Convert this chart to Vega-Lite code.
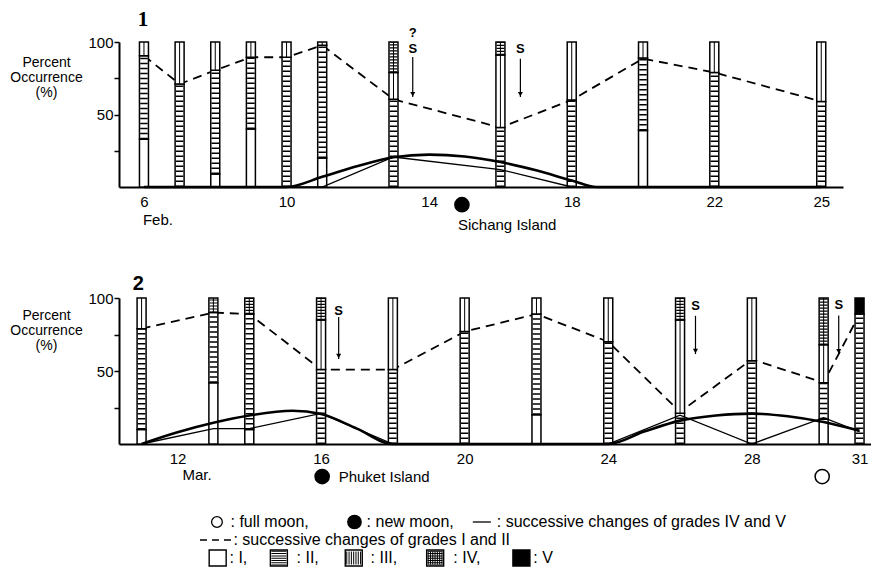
{
  "$schema": "https://vega.github.io/schema/vega-lite/v6.json",
  "background": "white",
  "autosize": {"type": "pad"},
  "padding": {"left": 9, "top": 9, "right": 0, "bottom": 0},
  "config": {
    "font": "Liberation Sans",
    "view": {"stroke": null},
    "axis": {"domainColor": "black", "domainWidth": 2, "grid": false, "labelColor": "black", "labelFont": "Liberation Sans", "labelFontSize": 15, "titleFont": "Liberation Sans", "titleFontSize": 14, "titleFontWeight": "normal", "titleColor": "black", "tickColor": "black"},
    "axisX": {"ticks": false, "labelPadding": 7, "labelFlush": false, "labelOverlap": false, "title": null},
    "axisY": {"tickSize": 5, "tickWidth": 1.5, "labelPadding": 1, "titleAngle": 0, "titleAlign": "center", "titleBaseline": "middle", "titleLineHeight": 15, "labelOverlap": false},
    "text": {"font": "Liberation Sans", "color": "black"},
    "point": {"opacity": 1}
  },
  "datasets": {
    "bars1": [
      {"day": 6, "grade": "I", "pct": 0, "hi": 33}, {"day": 6, "grade": "II", "pct": 33, "hi": 90.5}, {"day": 6, "grade": "III", "pct": 90.5, "hi": 100},
      {"day": 7, "grade": "II", "pct": 0, "hi": 71}, {"day": 7, "grade": "III", "pct": 71, "hi": 100},
      {"day": 8, "grade": "I", "pct": 0, "hi": 9}, {"day": 8, "grade": "II", "pct": 9, "hi": 80.5}, {"day": 8, "grade": "III", "pct": 80.5, "hi": 100},
      {"day": 9, "grade": "I", "pct": 0, "hi": 40}, {"day": 9, "grade": "II", "pct": 40, "hi": 89.5}, {"day": 9, "grade": "III", "pct": 89.5, "hi": 100},
      {"day": 10, "grade": "II", "pct": 0, "hi": 89.5}, {"day": 10, "grade": "III", "pct": 89.5, "hi": 100},
      {"day": 11, "grade": "I", "pct": 0, "hi": 20}, {"day": 11, "grade": "II", "pct": 20, "hi": 97.7}, {"day": 11, "grade": "III", "pct": 97.7, "hi": 100},
      {"day": 13, "grade": "II", "pct": 0, "hi": 60.5}, {"day": 13, "grade": "III", "pct": 60.5, "hi": 79}, {"day": 13, "grade": "IV", "pct": 79, "hi": 100},
      {"day": 16, "grade": "II", "pct": 0, "hi": 41}, {"day": 16, "grade": "III", "pct": 41, "hi": 91}, {"day": 16, "grade": "IV", "pct": 91, "hi": 100},
      {"day": 18, "grade": "II", "pct": 0, "hi": 60}, {"day": 18, "grade": "III", "pct": 60, "hi": 100},
      {"day": 20, "grade": "I", "pct": 0, "hi": 39}, {"day": 20, "grade": "II", "pct": 39, "hi": 89}, {"day": 20, "grade": "III", "pct": 89, "hi": 100},
      {"day": 22, "grade": "II", "pct": 0, "hi": 79}, {"day": 22, "grade": "III", "pct": 79, "hi": 100},
      {"day": 25, "grade": "II", "pct": 0, "hi": 59}, {"day": 25, "grade": "III", "pct": 59, "hi": 100}
    ],
    "dash1": [
      {"day": 6, "pct": 90.5}, {"day": 7, "pct": 71}, {"day": 8, "pct": 80.5}, {"day": 9, "pct": 89.5}, {"day": 10, "pct": 89.5}, {"day": 11, "pct": 97.7},
      {"day": 13, "pct": 60.5}, {"day": 16, "pct": 41}, {"day": 18, "pct": 60}, {"day": 20, "pct": 88.5}, {"day": 22, "pct": 79}, {"day": 25, "pct": 59}
    ],
    "thin1": [
      {"day": 6, "pct": 0}, {"day": 11, "pct": 0}, {"day": 13, "pct": 20.7}, {"day": 16, "pct": 12}, {"day": 18, "pct": 0}, {"day": 25, "pct": 0}
    ],
    "thick1": [
      {"day": 6, "pct": 0}, {"day": 10, "pct": 0}, {"day": 11, "pct": 7}, {"day": 12, "pct": 14.5}, {"day": 13, "pct": 20.5}, {"day": 14, "pct": 22.3},
      {"day": 15, "pct": 21}, {"day": 16, "pct": 17.2}, {"day": 17, "pct": 11.5}, {"day": 18, "pct": 4.5}, {"day": 18.7, "pct": 0}, {"day": 20, "pct": 0}, {"day": 25, "pct": 0}
    ],
    "arrows1": [{"day": 13.54, "pct": 62, "top": 89.7}, {"day": 16.56, "pct": 62, "top": 88.5}],
    "stext1": [{"day": 13.54, "pct": 106, "txt": "?"}, {"day": 13.54, "pct": 95.4, "txt": "S"}, {"day": 16.56, "pct": 95.4, "txt": "S"}],
    "labels1": [{"day": 5.97, "pct": -23, "txt": "Feb."}, {"day": 14.81, "pct": -26, "txt": "Sichang Island"}],
    "moon1": [{"day": 14.92, "pct": -12.2, "phase": "new"}],
    "plabel1": [{"day": 5.97, "pct": 115, "txt": "1"}],
    "bars2": [
      {"day": 11, "grade": "I", "pct": 0, "hi": 10}, {"day": 11, "grade": "II", "pct": 10, "hi": 79}, {"day": 11, "grade": "III", "pct": 79, "hi": 100},
      {"day": 13, "grade": "I", "pct": 0, "hi": 42}, {"day": 13, "grade": "II", "pct": 42, "hi": 90}, {"day": 13, "grade": "IV", "pct": 90, "hi": 100},
      {"day": 14, "grade": "I", "pct": 0, "hi": 10}, {"day": 14, "grade": "II", "pct": 10, "hi": 89}, {"day": 14, "grade": "IV", "pct": 89, "hi": 100},
      {"day": 16, "grade": "II", "pct": 0, "hi": 51}, {"day": 16, "grade": "III", "pct": 51, "hi": 85}, {"day": 16, "grade": "IV", "pct": 85, "hi": 100},
      {"day": 18, "grade": "II", "pct": 0, "hi": 51}, {"day": 18, "grade": "III", "pct": 51, "hi": 100},
      {"day": 20, "grade": "II", "pct": 0, "hi": 77}, {"day": 20, "grade": "III", "pct": 77, "hi": 100},
      {"day": 22, "grade": "I", "pct": 0, "hi": 20}, {"day": 22, "grade": "II", "pct": 20, "hi": 89}, {"day": 22, "grade": "III", "pct": 89, "hi": 100},
      {"day": 24, "grade": "II", "pct": 0, "hi": 70}, {"day": 24, "grade": "III", "pct": 70, "hi": 100},
      {"day": 26, "grade": "II", "pct": 0, "hi": 21}, {"day": 26, "grade": "III", "pct": 21, "hi": 85}, {"day": 26, "grade": "IV", "pct": 85, "hi": 100},
      {"day": 28, "grade": "II", "pct": 0, "hi": 57}, {"day": 28, "grade": "III", "pct": 57, "hi": 100},
      {"day": 30, "grade": "I", "pct": 0, "hi": 17}, {"day": 30, "grade": "II", "pct": 17, "hi": 42}, {"day": 30, "grade": "III", "pct": 42, "hi": 68}, {"day": 30, "grade": "IV", "pct": 68, "hi": 100},
      {"day": 31, "grade": "II", "pct": 0, "hi": 89}, {"day": 31, "grade": "V", "pct": 89, "hi": 100}
    ],
    "dash2": [
      {"day": 11, "pct": 79}, {"day": 13, "pct": 90}, {"day": 14, "pct": 89}, {"day": 16, "pct": 51}, {"day": 18, "pct": 51}, {"day": 20, "pct": 77},
      {"day": 22, "pct": 89}, {"day": 24, "pct": 70}, {"day": 26, "pct": 22}, {"day": 28, "pct": 58}, {"day": 30, "pct": 42}, {"day": 31, "pct": 89}
    ],
    "thin2": [
      {"day": 11, "pct": 0}, {"day": 13, "pct": 10.5}, {"day": 14, "pct": 10.5}, {"day": 16, "pct": 21}, {"day": 18, "pct": 0}, {"day": 24, "pct": 0},
      {"day": 26, "pct": 19.7}, {"day": 28, "pct": 0}, {"day": 30, "pct": 18}, {"day": 31, "pct": 8.5}
    ],
    "thick2": [
      {"day": 11, "pct": 0}, {"day": 12, "pct": 8}, {"day": 13, "pct": 14.5}, {"day": 14, "pct": 19.5}, {"day": 15.2, "pct": 22.8},
      {"day": 16, "pct": 20.5}, {"day": 17, "pct": 10.5}, {"day": 18, "pct": 0}, {"day": 24, "pct": 0}, {"day": 25, "pct": 8.5}, {"day": 26, "pct": 16},
      {"day": 27, "pct": 19.5}, {"day": 28, "pct": 20.8}, {"day": 29, "pct": 19}, {"day": 30, "pct": 15}, {"day": 31, "pct": 9}
    ],
    "arrows2": [{"day": 16.49, "pct": 58.2, "top": 87}, {"day": 26.43, "pct": 61.6, "top": 87.8}, {"day": 30.42, "pct": 61.5, "top": 88}],
    "stext2": [{"day": 16.49, "pct": 91, "txt": "S"}, {"day": 26.43, "pct": 94.6, "txt": "S"}, {"day": 30.42, "pct": 95, "txt": "S"}],
    "labels2": [{"day": 12.14, "pct": -21.3, "txt": "Mar."}, {"day": 16.49, "pct": -22.3, "txt": "Phuket Island"}],
    "moon2": [{"day": 16.03, "pct": -22.3, "phase": "new"}, {"day": 29.96, "pct": -22.3, "phase": "full"}],
    "plabel2": [{"day": 10.91, "pct": 109.8, "txt": "2"}],
    "legendText": [
      {"u": 14.92, "row": 1, "txt": ": full moon,"},
      {"u": 33.98, "row": 1, "txt": ": new moon,"},
      {"u": 52.21, "row": 1, "txt": ": successive changes of grades IV and V"},
      {"u": 15.33, "row": 2, "txt": ": successive changes of grades I and II"},
      {"u": 14.78, "row": 3, "txt": ": I,"},
      {"u": 24.17, "row": 3, "txt": ": II,"},
      {"u": 34.53, "row": 3, "txt": ": III,"},
      {"u": 46.13, "row": 3, "txt": ": IV,"},
      {"u": 57.32, "row": 3, "txt": ": V"}
    ],
    "legendMoons": [{"u": 13.02, "row": 1, "phase": "full"}, {"u": 32.28, "row": 1, "phase": "new"}],
    "legendLines": [{"u": 48.85, "u2": 51.38, "row": 1, "style": "solid"}, {"u": 10.64, "u2": 15.19, "row": 2, "style": "dashed"}],
    "legendBoxes": [
      {"u": 13.12, "row": 3, "grade": "I"}, {"u": 21.69, "row": 3, "grade": "II"}, {"u": 32.18, "row": 3, "grade": "III"},
      {"u": 43.58, "row": 3, "grade": "IV"}, {"u": 55.66, "row": 3, "grade": "V"}
    ]
  },
  "vconcat": [
    {
      "width": 724,
      "height": 145,
      "encoding": {
        "x": {"field": "day", "type": "quantitative", "scale": {"domain": [5.44, 25.47], "nice": false, "zero": false}, "axis": {"values": [6, 10, 14, 18, 22, 25]}},
        "y": {"field": "pct", "type": "quantitative", "scale": {"domain": [0, 100], "nice": false, "zero": false},
              "axis": {"values": [25, 50, 75, 100], "labelExpr": "datum.value % 50 == 0 ? datum.label : ''", "title": ["Percent", "Occurrence", "(%)"], "titleX": -73, "titleY": 20}}
      },
      "layer": [
        {"data": {"name": "dash1"}, "mark": {"type": "line", "color": "black", "strokeWidth": 1.8, "strokeDash": [9, 6]}},
        {"data": {"name": "bars1"}, "mark": {"type": "bar", "size": 9, "stroke": "black", "strokeWidth": 1.5},
         "encoding": {"y2": {"field": "hi"}, "fill": {"condition": {"test": "datum.grade == 'V'", "value": "black"}, "value": "white"}}},
        {"data": {"name": "bars1"}, "transform": [{"filter": "datum.grade == 'II'"}],
         "mark": {"type": "rule", "color": "black", "strokeWidth": 7.5, "strokeDash": [1.5, 3.5], "strokeCap": "butt"}, "encoding": {"y2": {"field": "hi"}}},
        {"data": {"name": "bars1"}, "transform": [{"filter": "datum.grade == 'IV'"}],
         "mark": {"type": "rule", "color": "black", "strokeWidth": 7.5, "strokeDash": [1.2, 1.8], "strokeCap": "butt"}, "encoding": {"y2": {"field": "hi"}}},
        {"data": {"name": "bars1"}, "transform": [{"filter": "datum.grade == 'III' || datum.grade == 'IV'"}],
         "mark": {"type": "rule", "color": "black", "strokeWidth": 1}, "encoding": {"y2": {"field": "hi"}}},
        {"data": {"name": "thin1"}, "mark": {"type": "line", "color": "black", "strokeWidth": 1.3}},
        {"data": {"name": "thick1"}, "mark": {"type": "line", "color": "black", "strokeWidth": 2.6, "interpolate": "monotone"}},
        {"data": {"name": "arrows1"}, "mark": {"type": "rule", "color": "black", "strokeWidth": 1.2}, "encoding": {"y2": {"field": "top"}}},
        {"data": {"name": "arrows1"}, "mark": {"type": "point", "shape": "triangle-down", "filled": true, "opacity": 1, "color": "black", "size": 26, "yOffset": -3}},
        {"data": {"name": "stext1"}, "mark": {"type": "text", "fontSize": 13, "fontWeight": "bold", "align": "center", "baseline": "middle"}, "encoding": {"text": {"field": "txt"}}},
        {"data": {"name": "labels1"}, "mark": {"type": "text", "fontSize": 15, "align": "left", "baseline": "middle"}, "encoding": {"text": {"field": "txt"}}},
        {"data": {"name": "plabel1"}, "mark": {"type": "text", "font": "Liberation Serif", "fontSize": 21, "fontWeight": "bold", "align": "center", "baseline": "middle"}, "encoding": {"text": {"field": "txt"}}},
        {"data": {"name": "moon1"}, "mark": {"type": "point", "shape": "circle", "filled": true, "opacity": 1, "size": 200, "stroke": "black", "strokeWidth": 1.5},
         "encoding": {"fill": {"condition": {"test": "datum.phase == 'new'", "value": "black"}, "value": "white"}}}
      ]
    },
    {
      "width": 752,
      "height": 197,
      "encoding": {
        "x": {"field": "day", "type": "quantitative", "scale": {"domain": [10.51, 31.18], "nice": false, "zero": false}, "axis": {"values": [12, 16, 20, 24, 28, 31]}},
        "y": {"field": "pct", "type": "quantitative", "scale": {"domain": [0, 100], "range": [197, 51], "nice": false, "zero": false},
              "axis": {"values": [25, 50, 75, 100], "labelExpr": "datum.value % 50 == 0 ? datum.label : ''", "title": ["Percent", "Occurrence", "(%)"], "titleX": -73, "titleY": 68}}
      },
      "layer": [
        {"data": {"name": "dash2"}, "mark": {"type": "line", "color": "black", "strokeWidth": 1.8, "strokeDash": [9, 6]}},
        {"data": {"name": "bars2"}, "mark": {"type": "bar", "size": 9, "stroke": "black", "strokeWidth": 1.5},
         "encoding": {"y2": {"field": "hi"}, "fill": {"condition": {"test": "datum.grade == 'V'", "value": "black"}, "value": "white"}}},
        {"data": {"name": "bars2"}, "transform": [{"filter": "datum.grade == 'II'"}],
         "mark": {"type": "rule", "color": "black", "strokeWidth": 7.5, "strokeDash": [1.5, 3.5], "strokeCap": "butt"}, "encoding": {"y2": {"field": "hi"}}},
        {"data": {"name": "bars2"}, "transform": [{"filter": "datum.grade == 'IV'"}],
         "mark": {"type": "rule", "color": "black", "strokeWidth": 7.5, "strokeDash": [1.2, 1.8], "strokeCap": "butt"}, "encoding": {"y2": {"field": "hi"}}},
        {"data": {"name": "bars2"}, "transform": [{"filter": "datum.grade == 'III' || datum.grade == 'IV'"}],
         "mark": {"type": "rule", "color": "black", "strokeWidth": 1}, "encoding": {"y2": {"field": "hi"}}},
        {"data": {"name": "thin2"}, "mark": {"type": "line", "color": "black", "strokeWidth": 1.3}},
        {"data": {"name": "thick2"}, "mark": {"type": "line", "color": "black", "strokeWidth": 2.6, "interpolate": "monotone"}},
        {"data": {"name": "arrows2"}, "mark": {"type": "rule", "color": "black", "strokeWidth": 1.2}, "encoding": {"y2": {"field": "top"}}},
        {"data": {"name": "arrows2"}, "mark": {"type": "point", "shape": "triangle-down", "filled": true, "opacity": 1, "color": "black", "size": 26, "yOffset": -3}},
        {"data": {"name": "stext2"}, "mark": {"type": "text", "fontSize": 13, "fontWeight": "bold", "align": "center", "baseline": "middle"}, "encoding": {"text": {"field": "txt"}}},
        {"data": {"name": "labels2"}, "mark": {"type": "text", "fontSize": 15, "align": "left", "baseline": "middle"}, "encoding": {"text": {"field": "txt"}}},
        {"data": {"name": "plabel2"}, "mark": {"type": "text", "fontSize": 20, "fontWeight": "bold", "align": "center", "baseline": "middle"}, "encoding": {"text": {"field": "txt"}}},
        {"data": {"name": "moon2"}, "mark": {"type": "point", "shape": "circle", "filled": true, "opacity": 1, "size": 200, "stroke": "black", "strokeWidth": 1.5},
         "encoding": {"fill": {"condition": {"test": "datum.phase == 'new'", "value": "black"}, "value": "white"}}}
      ]
    },
    {
      "width": 724,
      "height": 72,
      "encoding": {
        "x": {"field": "u", "type": "quantitative", "scale": {"domain": [0, 100], "nice": false, "zero": false}, "axis": null},
        "y": {"field": "row", "type": "quantitative", "scale": {"domain": [0, 4], "reverse": true, "nice": false, "zero": false}, "axis": null}
      },
      "layer": [
        {"data": {"name": "legendBoxes"}, "mark": {"type": "bar", "size": 17, "stroke": "black", "strokeWidth": 1.4},
         "encoding": {"y": {"datum": 2.556}, "y2": {"datum": 3.444}, "fill": {"condition": {"test": "datum.grade == 'V'", "value": "black"}, "value": "white"}}},
        {"data": {"name": "legendBoxes"}, "transform": [{"filter": "datum.grade == 'II' || datum.grade == 'IV'"}],
         "mark": {"type": "rule", "color": "black", "strokeWidth": 15, "strokeDash": [1, 1.3], "strokeCap": "butt"},
         "encoding": {"y": {"datum": 2.6}, "y2": {"datum": 3.4}}},
        {"data": {"name": "legendBoxes"}, "transform": [{"filter": "datum.grade == 'III' || datum.grade == 'IV'"}],
         "mark": {"type": "rule", "color": "black", "strokeWidth": 13, "strokeDash": [1, 1.3], "strokeCap": "butt", "xOffset": -7.5, "x2Offset": 7.5},
         "encoding": {"x2": {"field": "u"}}},
        {"data": {"name": "legendLines"}, "transform": [{"filter": "datum.style == 'solid'"}],
         "mark": {"type": "rule", "color": "black", "strokeWidth": 1.3}, "encoding": {"x2": {"field": "u2"}}},
        {"data": {"name": "legendLines"}, "transform": [{"filter": "datum.style == 'dashed'"}],
         "mark": {"type": "rule", "color": "black", "strokeWidth": 1.5, "strokeDash": [7, 5]}, "encoding": {"x2": {"field": "u2"}}},
        {"data": {"name": "legendMoons"}, "mark": {"type": "point", "shape": "circle", "filled": true, "opacity": 1, "stroke": "black", "strokeWidth": 1.3},
         "encoding": {"fill": {"condition": {"test": "datum.phase == 'new'", "value": "black"}, "value": "white"},
                      "size": {"condition": {"test": "datum.phase == 'new'", "value": 180}, "value": 115}}},
        {"data": {"name": "legendText"}, "mark": {"type": "text", "fontSize": 16, "align": "left", "baseline": "middle"}, "encoding": {"text": {"field": "txt"}}}
      ]
    }
  ],
  "spacing": 60,
  "bounds": "flush"
}
